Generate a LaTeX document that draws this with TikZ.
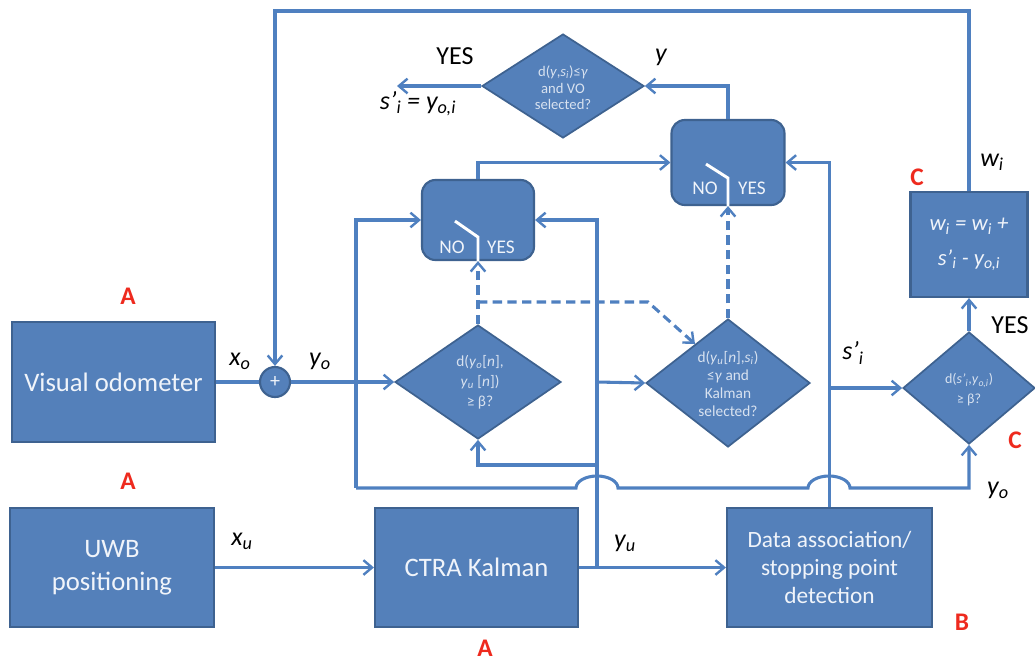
\documentclass[tikz,border=0pt]{standalone}
\usepackage{fontspec}
\setmainfont{Carlito}
\usetikzlibrary{shapes.geometric,arrows.meta,calc}
\definecolor{fillb}{HTML}{5480BA}
\definecolor{edgeb}{HTML}{3E6290}
\definecolor{lineb}{HTML}{4F80C0}
\definecolor{redl}{HTML}{EE2A1E}
\definecolor{txtw}{HTML}{F0F4FA}
\definecolor{txtd}{HTML}{D8E2F0}
\newcommand\itsub[2]{\textit{#1}\textsubscript{\textit{#2}}}
\begin{document}
\begin{tikzpicture}[x=0.75pt,y=-0.75pt,
  blk/.style={draw=edgeb,fill=fillb,line width=1.6pt,inner sep=0pt,text=txtw,align=center,font=\fontsize{20}{25}\selectfont},
  dia/.style={diamond,draw=edgeb,fill=fillb,line width=1.3pt,inner sep=0pt},
  sw/.style={draw=edgeb,fill=fillb,line width=1.6pt,rounded corners=10pt,inner sep=0pt},
  dtxt/.style={text=txtd,align=center,inner sep=0pt},
  con/.style={draw=lineb,line width=2.3pt},
  arr/.style={con,-{Straight Barb[length=6.5pt,width=11pt,line width=1.8pt]}},
  swl/.style={draw=white,line width=2.2pt},
  swt/.style={text=txtw,inner sep=0pt,font=\fontsize{14.5}{16}\selectfont},
  lab/.style={inner sep=0pt,font=\fontsize{19.5}{22}\selectfont\itshape},
  yes/.style={inner sep=0pt,font=\fontsize{19.5}{22}\selectfont},
  redlab/.style={inner sep=0pt,text=redl,font=\fontsize{19}{22}\selectfont\bfseries}
]
\useasboundingbox (0,0) rectangle (1035,662);

% blocks
\node[blk,minimum width=203*0.75pt,minimum height=120*0.75pt] (vo) at (113.5,382) {Visual odometer};
\node[blk,minimum width=204*0.75pt,minimum height=119*0.75pt] (uwb) at (112,567.5) {UWB\\positioning};
\node[blk,minimum width=203*0.75pt,minimum height=119*0.75pt] (ctra) at (476.5,567.5) {CTRA Kalman};
\node[blk,minimum width=205*0.75pt,minimum height=119*0.75pt,font=\fontsize{17.5}{21}\selectfont] (data) at (829.5,567.5) {Data association/\\stopping point\\detection};
\node[blk,minimum width=117*0.75pt,minimum height=105*0.75pt,font=\fontsize{17}{26}\selectfont\itshape] (wbox) at (969,244.5) {w\textsubscript{i} = w\textsubscript{i} +\\s’\textsubscript{i} - y\textsubscript{o,i}};
\node[circle,draw=edgeb,fill=fillb,line width=1.6pt,minimum size=30*0.75pt,inner sep=0pt,text=txtw,font=\fontsize{15}{15}\selectfont] (circ) at (275,382) {+};

% switches
\node[sw,minimum width=112*0.75pt,minimum height=80*0.75pt] (sw1) at (478,220) {};
\node[sw,minimum width=113*0.75pt,minimum height=85*0.75pt] (sw2) at (728,162.5) {};

% diamonds
\node[dia,minimum width=162*0.75pt,minimum height=104*0.75pt] (d0) at (563,86) {};
\node[dia,minimum width=166*0.75pt,minimum height=114*0.75pt] (d1) at (478,382) {};
\node[dia,minimum width=164*0.75pt,minimum height=128*0.75pt] (d2) at (728,383) {};
\node[dia,minimum width=132*0.75pt,minimum height=112*0.75pt] (d3) at (969,388) {};

\node[dtxt,font=\fontsize{11}{12.5}\selectfont] (d0t) at (563,88) {d(\textit{y},\itsub{s}{i})≤\textit{γ}\\and VO\\selected?};
\node[dtxt,font=\fontsize{11.5}{15}\selectfont] (d1t) at (480,382) {d(\itsub{y}{o}[\textit{n}],\\\itsub{y}{u} [\textit{n}])\\≥ β?};
\node[dtxt,font=\fontsize{11.5}{13.5}\selectfont] (d2t) at (728,384) {d(\itsub{y}{u}[\textit{n}],\itsub{s}{i})\\≤\textit{γ} and\\Kalman\\selected?};
\node[dtxt,font=\fontsize{10.5}{15}\selectfont] (d3t) at (969,390) {d(\textit{s’}\textsubscript{\textit{i}},\itsub{y}{o,i})\\≥ β?};

% coordinates
\coordinate (topl) at (0,11);
\coordinate (j1) at (597,567.5);
\coordinate (j2) at (597,465);
\coordinate (j3) at (597,382);
\coordinate (lp) at (356,488);
\coordinate (yesend) at (397,86);
\coordinate (dj) at (478,302);
\coordinate (dk) at (648,302);
\coordinate (de) at (695,344);

% connectors
\draw[con] (vo.east) -- (circ.west);
\draw[arr] (circ.east) -- (d1.west);
\draw[arr] (wbox.north) -- (wbox.north |- topl) -| (circ.north);
\draw[arr] (d3.north) -- (wbox.south);
\draw[arr] (uwb.east) -- (ctra.west);
\draw[arr] (ctra.east) -- (data.west);
\draw[arr] (j1) |- (sw1.east);
\draw[arr] (j2) -| (d1.south);
\draw[arr] (j3) -- (d2.west);
\draw[arr] (lp) |- (sw1.west);
\draw[arr] (lp) -- (576,488) arc[start angle=180,end angle=0,x radius=15.75pt,y radius=9pt]
  -- (808,488) arc[start angle=180,end angle=0,x radius=15.75pt,y radius=9pt] -| (d3.south);
\draw[arr] (sw1.north) |- (sw2.west);
\draw[arr] (data.north) |- (sw2.east);
\draw[arr] (data.north |- d3.west) -- (d3.west);
\draw[arr] (sw2.north) |- (d0.east);
\draw[arr] (d0.west) -- (yesend);
\draw[arr,dash pattern=on 7pt off 4pt] (d1.north) -- (sw1.south);
\draw[arr,dash pattern=on 7pt off 4pt] (d2.north) -- (sw2.south);
\draw[arr,dash pattern=on 7pt off 4pt] (dj) -- (dk) -- (de);

% switch symbols
\draw[swl] (sw1.south) -- ++(0,-24) -- ++(-23,-16);
\draw[swl] (sw2.south) -- ++(0,-28) -- ++(-22,-14);
\node[swt] (no1) at (452,247) {NO};
\node[swt] (ys1) at (501,247) {YES};
\node[swt] (no2) at (705,188) {NO};
\node[swt] (ys2) at (752,188) {YES};

% labels
\node[yes] (yes0) at (455,56) {YES};
\node[lab] (sy) at (418,104) {s’\textsubscript{i} = y\textsubscript{o,i}};
\node[lab] (ly) at (661,57) {y};
\node[lab] (lw) at (992,162) {w\textsubscript{i}};
\node[yes] (yes3) at (1010,325) {YES};
\node[lab] (ls) at (853,353) {s’\textsubscript{i}};
\node[lab] (lyo2) at (998,490) {y\textsubscript{o}};
\node[lab] (lxo) at (240,361) {x\textsubscript{o}};
\node[lab] (lyo) at (320,361) {y\textsubscript{o}};
\node[lab] (lxu) at (242,541) {x\textsubscript{u}};
\node[lab] (lyu) at (625,543) {y\textsubscript{u}};

\node[redlab] (ra1) at (128,296) {A};
\node[redlab] (ra2) at (128,481) {A};
\node[redlab] (ra3) at (485,648) {A};
\node[redlab] (rb) at (962,622) {B};
\node[redlab] (rc1) at (917,177) {C};
\node[redlab] (rc2) at (1015,440) {C};
\end{tikzpicture}
\end{document}
